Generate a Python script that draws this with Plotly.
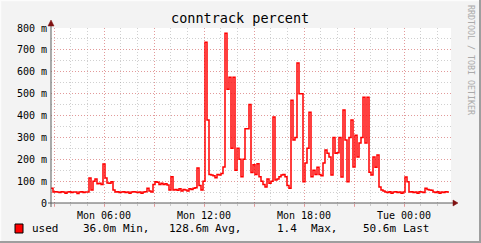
import datetime as dt
import plotly.graph_objects as go

# ---------------- data ----------------
start_time = "2024-01-01 02:49:12"   # Monday
step_seconds = 432
used_m = [
    68, 50, 52, 50, 48, 52, 50, 45, 50, 52, 48, 50, 50, 44, 50, 52, 48, 50, 50,
    114, 60, 100, 110, 88, 90, 85, 178, 114, 92, 90, 97, 60, 50, 52, 48,
    50, 52, 48, 50, 45, 50, 52, 50, 48, 50, 45, 50, 52, 68, 55, 50,
    85, 97, 95, 85, 90, 85, 88, 82, 60, 120, 60, 62, 58, 65, 55, 62, 60, 55,
    65, 62, 68, 70, 160, 80, 60, 100, 735, 380, 130, 128, 125, 115, 130, 128,
    135, 165, 776, 520, 575, 250, 575, 150, 250, 200, 120, 200, 340, 340, 450,
    140, 175, 130, 180, 120, 100, 85, 73, 110, 90, 100, 393, 105, 110, 120,
    128, 130, 120, 80, 68, 470, 288, 300, 640, 500, 500, 97, 183, 250, 415,
    120, 150, 130, 164, 130, 125, 183, 242, 228, 210, 128, 300, 228, 230, 300,
    119, 425, 288, 97, 300, 380, 165, 310, 210, 274, 300, 484, 274, 484, 141,
    128, 210, 164, 219, 73, 59, 55, 50, 48, 52, 45, 50, 52, 48, 50, 45, 50,
    119, 97, 50, 52, 48, 50, 45, 52, 50, 48, 68, 62, 60, 58, 50, 48, 52, 45,
    50, 48, 52, 50.6,
]
y_tick_vals = [0, 100, 200, 300, 400, 500, 600, 700, 800]
y_tick_text = ["0", "100 m", "200 m", "300 m", "400 m", "500 m", "600 m", "700 m", "800 m"]
x_tick_times = ["2024-01-01 03:00", "2024-01-01 06:00", "2024-01-01 09:00",
                "2024-01-01 12:00", "2024-01-01 15:00", "2024-01-01 18:00",
                "2024-01-01 21:00", "2024-01-02 00:00"]
x_tick_text = ["", "Mon 06:00", "", "Mon 12:00", "", "Mon 18:00", "", "Tue 00:00"]
title_text = "conntrack percent"
legend_name = "used"
legend_stats = [("36.0m", 81), ("Min,", 121), ("128.6m", 167), ("Avg,", 213),
                ("1.4", 275), ("Max,", 309), ("50.6m", 361), ("Last", 401)]

# ---------------- build ----------------
t0 = dt.datetime.strptime(start_time, "%Y-%m-%d %H:%M:%S")
times = [t0 + dt.timedelta(seconds=step_seconds * i) for i in range(len(used_m) + 1)]
vals = used_m + [used_m[-1]]
x_end = t0 + dt.timedelta(seconds=86400)

W, H = 481, 243
L, R, T, B = 51, 451, 28, 203
FONT = "DejaVu Sans Mono"


def px(x):
    return (x - L) / (R - L)


def py(y):
    return (B - y) / (B - T)


fig = go.Figure()
fig.add_trace(go.Scatter(x=times, y=vals, mode="lines",
                         line=dict(color="#FF0000", width=1.5, shape="hv"),
                         hoverinfo="skip", showlegend=False))

major_grid = "rgba(240,110,110,0.55)"
minor_grid = "rgba(150,150,150,0.45)"

fig.update_layout(
    width=W, height=H,
    margin=dict(l=L, r=W - R, t=T, b=H - B),
    paper_bgcolor="#F3F3F3", plot_bgcolor="#FFFFFF",
    font=dict(family=FONT, size=10, color="#000000"),
    showlegend=False,
    xaxis=dict(
        type="date", range=[t0, x_end],
        tickmode="array", tickvals=x_tick_times, ticktext=x_tick_text,
        showgrid=True, gridcolor=major_grid, griddash="1px,2px", gridwidth=1,
        ticks="outside", ticklen=3, tickcolor=major_grid,
        tickfont=dict(family=FONT, size=10, color="#000000"),
        showline=False, zeroline=False, fixedrange=True,
        minor=dict(dtick=3600000, tick0="2024-01-01 00:00", showgrid=True,
                   gridcolor=minor_grid, griddash="1px,2px",
                   ticks="outside", ticklen=2, tickcolor=minor_grid),
    ),
    yaxis=dict(
        range=[0, 800], tickmode="array", tickvals=y_tick_vals, ticktext=y_tick_text,
        showgrid=True, gridcolor=major_grid, griddash="1px,2px", gridwidth=1,
        tickfont=dict(family=FONT, size=10, color="#000000"),
        showline=False, zeroline=False, fixedrange=True, ticks="",
        ticklabelstandoff=3,
        minor=dict(dtick=50, tick0=0, showgrid=True, gridcolor=minor_grid,
                   griddash="1px,2px"),
    ),
)

shapes = []
axis_col = "#5A5A5A"
arrow_col = "#7F1010"
# axis lines
shapes.append(dict(type="line", xref="paper", yref="paper", x0=px(48), x1=px(454),
                   y0=0, y1=0, line=dict(color=axis_col, width=1)))
shapes.append(dict(type="line", xref="paper", yref="paper", x0=0, x1=0,
                   y0=py(207), y1=py(24), line=dict(color=axis_col, width=1)))
# arrows
shapes.append(dict(type="path", xref="paper", yref="paper",
                   path=f"M {px(453)} {py(200)} L {px(458)} {py(203)} L {px(453)} {py(206)} Z",
                   fillcolor=arrow_col, line=dict(color=arrow_col, width=0.5)))
shapes.append(dict(type="path", xref="paper", yref="paper",
                   path=f"M {px(48)} {py(26)} L {px(51)} {py(20)} L {px(54)} {py(26)} Z",
                   fillcolor=arrow_col, line=dict(color=arrow_col, width=0.5)))
# frame borders
shapes.append(dict(type="line", xref="paper", yref="paper", x0=px(0), x1=px(481),
                   y0=py(0.5), y1=py(0.5), line=dict(color="#FCFCFC", width=1.5)))
shapes.append(dict(type="line", xref="paper", yref="paper", x0=px(0.5), x1=px(0.5),
                   y0=py(0), y1=py(243), line=dict(color="#FCFCFC", width=1.5)))
shapes.append(dict(type="line", xref="paper", yref="paper", x0=px(0), x1=px(481),
                   y0=py(242), y1=py(242), line=dict(color="#9E9E9E", width=2)))
shapes.append(dict(type="line", xref="paper", yref="paper", x0=px(480), x1=px(480),
                   y0=py(0), y1=py(243), line=dict(color="#9E9E9E", width=2)))
# legend swatch
shapes.append(dict(type="rect", xref="paper", yref="paper", x0=px(15), x1=px(23),
                   y0=py(233), y1=py(224), fillcolor="#FF0000",
                   line=dict(color="#000000", width=1)))
fig.update_layout(shapes=shapes)

ann = []
ann.append(dict(text=title_text, xref="paper", yref="paper", x=px(240), y=py(18),
                showarrow=False, xanchor="center", yanchor="middle",
                font=dict(family=FONT, size=13.5, color="#000000")))
ann.append(dict(text="RRDTOOL / TOBI OETIKER", xref="paper", yref="paper",
                x=px(471), y=py(60), textangle=90, showarrow=False,
                xanchor="center", yanchor="middle",
                font=dict(family=FONT, size=8.3, color="#AAAAAA")))
ann.append(dict(text=legend_name, xref="paper", yref="paper", x=px(30), y=py(228.5),
                showarrow=False, xanchor="left", yanchor="middle",
                font=dict(family=FONT, size=11, color="#000000")))
for txt, xpos in legend_stats:
    ann.append(dict(text=txt, xref="paper", yref="paper", x=px(xpos), y=py(228.5),
                    showarrow=False, xanchor="left", yanchor="middle",
                    font=dict(family=FONT, size=11, color="#000000")))
fig.update_layout(annotations=ann)

fig.write_html("out.html", config={"displayModeBar": False})
